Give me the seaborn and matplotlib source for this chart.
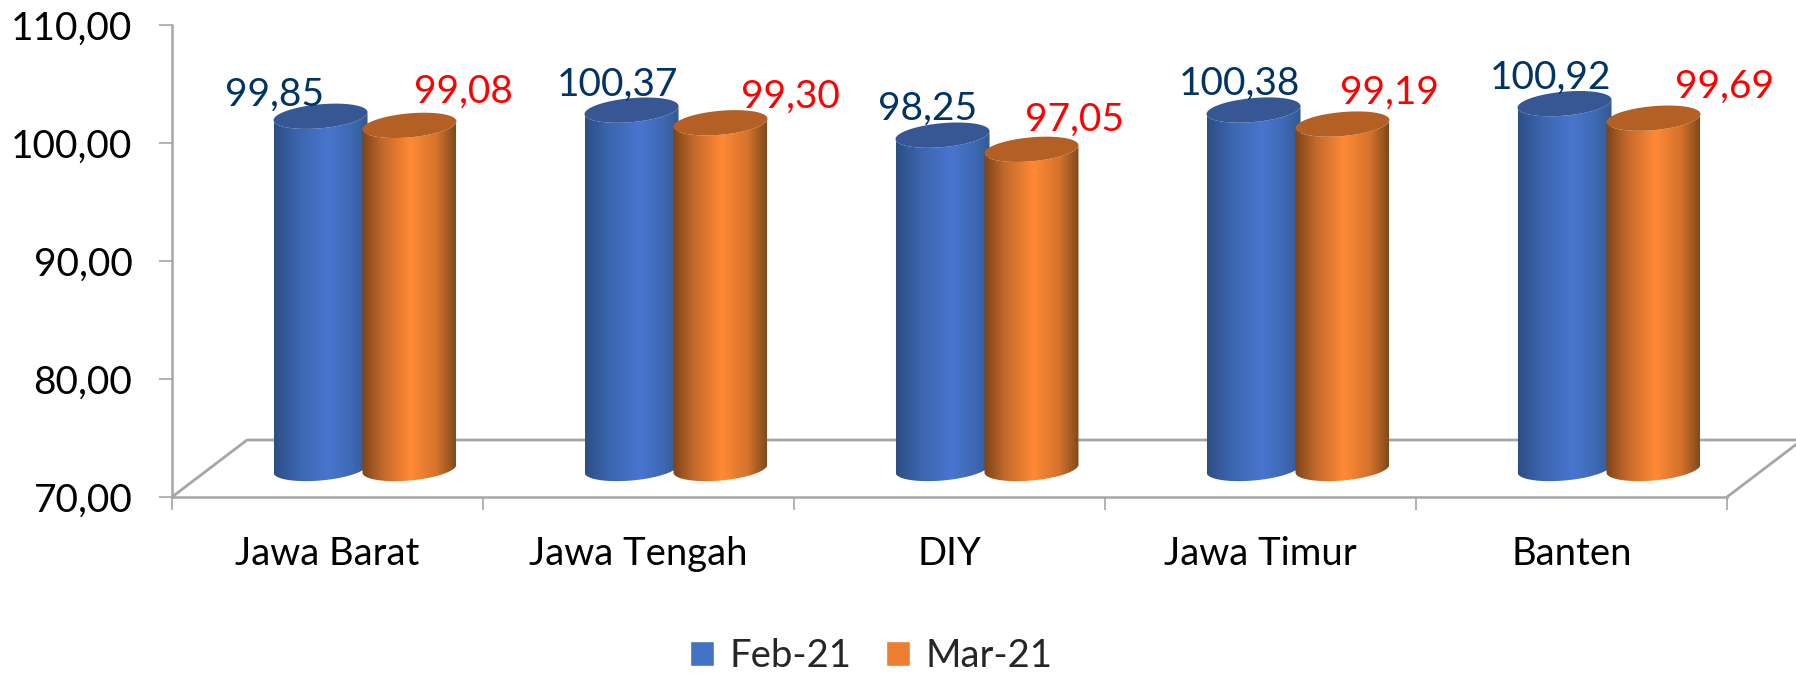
import numpy as np
import pandas as pd
import seaborn as sns
import matplotlib.pyplot as plt
from matplotlib.colors import LinearSegmentedColormap
from matplotlib.patches import Patch, Polygon
from matplotlib.path import Path

# values
categories = ['Jawa Barat', 'Jawa Tengah', 'DIY', 'Jawa Timur', 'Banten']
feb_values = [99.85, 100.37, 98.25, 100.38, 100.92]
mar_values = [99.08, 99.30, 97.05, 99.19, 99.69]
series_names = ['Feb-21', 'Mar-21']
y_ticks = [70, 80, 90, 100, 110]

# hand placed labels in the original, shift from bar top in pixels
feb_shift = [(-46, 22), (-14, 25), (-15, 26), (-14, 26), (-14, 26)]
mar_shift = [(54, 34), (70, 26), (43, 30), (47, 31), (71, 31)]

W, H = 1796, 674
GRAY = '#a6a6a6'
FONT = 'Lato'

sns.set_style('white')
plt.rcParams['font.family'] = [FONT, 'DejaVu Sans']

df = pd.DataFrame({
    'region': categories * 2,
    'value': feb_values + mar_values,
    'month': [series_names[0]] * 5 + [series_names[1]] * 5,
})

fig = plt.figure(figsize=(W / 100, H / 100), dpi=100)
ax = fig.add_axes([172 / W, (H - 497) / H, 1555 / W, 472 / H])
sns.barplot(data=df, x='region', y='value', hue='month', order=categories, hue_order=series_names,
            width=0.572, gap=0, legend=False, ax=ax)

# pixel to data scale of the plot
px_x = 5 / 1555
px_y = 40 / 472

# pseudo 3D box depth
depth_x = 75 * px_x
depth_y = 57 * px_y

#Floor of the box, goes off the picture on the right
ax.plot([-0.5, -0.5 + depth_x, 4.5 + depth_x], [70, 70 + depth_y, 70 + depth_y],
        color=GRAY, lw=2, clip_on=False, zorder=1)
ax.plot([4.5, 4.5 + depth_x], [70, 70 + depth_y], color=GRAY, lw=2, clip_on=False, zorder=1)

blue_cmap = LinearSegmentedColormap.from_list('blue', [(0, '#2d4d85'), (0.25, '#3c65ae'), (0.58, '#4876cf'),
                                                       (0.82, '#3f69b5'), (1, '#34588f')])
orange_cmap = LinearSegmentedColormap.from_list('orange', [(0, '#7d4317'), (0.22, '#c2692c'), (0.52, '#ff8a35'),
                                                           (0.8, '#d4722c'), (1, '#7f4a1c')])
cmaps = [blue_cmap, orange_cmap]
cap_colors = ['#365694', '#b46024']
label_colors = ['#003366', '#ff0000']
shifts = [feb_shift, mar_shift]

half_w = 47 * px_x
ell_h = 12 * px_y
tilt = 4 * px_y


def ellipse_pts(cx, cy, t):
    return np.column_stack([cx + half_w * np.cos(t), cy + tilt * np.cos(t) + ell_h * np.sin(t)])


bars = list(ax.patches)
for i, bar in enumerate(bars):
    s = i // 5
    k = i % 5
    bar.set_visible(False)
    cx = bar.get_x() + bar.get_width() / 2 + depth_x / 2
    top = bar.get_height() + depth_y / 2
    low = 70 + depth_y / 2
    z = 3 + s

    lower = np.linspace(np.pi, 2 * np.pi, 60)
    outline = np.vstack([ellipse_pts(cx, low, lower), ellipse_pts(cx, top, lower[::-1])])
    body = Path(np.vstack([outline, outline[0]]), closed=True)
    im = ax.imshow(np.linspace(0, 1, 256)[None, :], extent=(cx - half_w, cx + half_w, low - 2, top + 2),
                   aspect='auto', cmap=cmaps[s], interpolation='bilinear', zorder=z)
    im.set_clip_path(body, transform=ax.transData)

    cap = Polygon(ellipse_pts(cx, top, np.linspace(0, 2 * np.pi, 120)), closed=True,
                  facecolor=cap_colors[s], edgecolor='none', zorder=z)
    ax.add_patch(cap)

    dx, dy = shifts[s][k]
    ax.annotate(f'{bar.get_height():.2f}'.replace('.', ','), xy=(cx, top), xytext=(dx * 0.72, dy * 0.72),
                textcoords='offset points', ha='center', va='center', fontsize=28, color=label_colors[s],
                annotation_clip=False, zorder=6)

ax.set_xlim(-0.5, 4.5)
ax.set_ylim(70, 110)
ax.set_xlabel('')
ax.set_ylabel('')

# axes and ticks
sns.despine(ax=ax)
for side in ['left', 'bottom']:
    ax.spines[side].set_color(GRAY)
    ax.spines[side].set_linewidth(1.8)
ax.set_yticks(y_ticks)
ax.set_yticklabels([f'{v:.2f}'.replace('.', ',') for v in y_ticks], fontsize=28, color='black')
ax.tick_params(axis='y', left=True, length=9.5, width=1.2, color=GRAY, pad=19)
ax.set_xticks(np.arange(-0.5, 5))
ax.set_xticklabels([])
ax.set_xticks(np.arange(5), labels=categories, minor=True, fontsize=27.5, color='black')
ax.tick_params(axis='x', which='major', bottom=True, length=9.5, width=1.2, color=GRAY)
ax.tick_params(axis='x', which='minor', bottom=False, length=0, pad=28)

handles = [Patch(facecolor='#4472c4', label=series_names[0]), Patch(facecolor='#ed7d31', label=series_names[1])]
fig.legend(handles=handles, loc='center', bbox_to_anchor=(871 / W, (H - 656) / H), ncol=2, frameon=False,
           fontsize=27.5, handlelength=0.63, handleheight=0.63, handletextpad=0.4, columnspacing=0.9,
           borderpad=0, borderaxespad=0)

fig.savefig('out.png', dpi=100, facecolor='white')
